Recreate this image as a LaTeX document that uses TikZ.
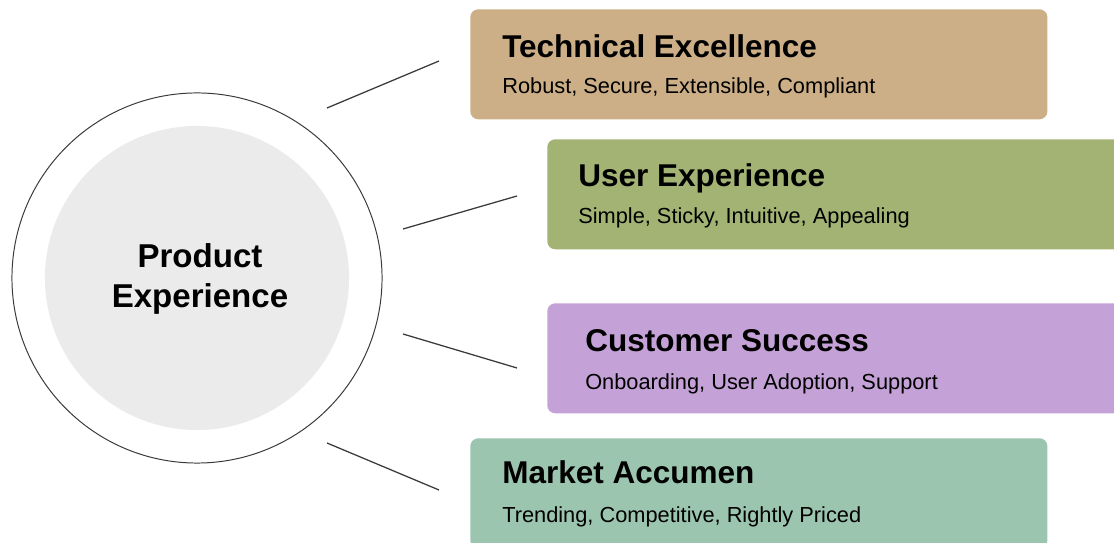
\documentclass[tikz,border=0pt]{standalone}
\usepackage{fontspec}
\setmainfont{Liberation Sans}
\definecolor{techtan}{HTML}{CDAF87}
\definecolor{usergreen}{HTML}{A3B373}
\definecolor{custlilac}{HTML}{C4A1D6}
\definecolor{marketsage}{HTML}{9BC5AF}
\definecolor{hubgray}{HTML}{EBEBEB}
\definecolor{ink}{HTML}{3A3A3A}

\begin{document}
\begin{tikzpicture}[x=0.025cm, y=-0.025cm,
  card/.style={anchor=north west, rounded corners=0.2cm, inner sep=0pt,
    minimum height=2.75cm},
  title/.style={anchor=base west, inner sep=0pt, font=\fontsize{22.4}{26}\selectfont\bfseries},
  sub/.style={anchor=base west, inner sep=0pt, font=\fontsize{15.5}{18}\selectfont},
  spoke/.style={ink, line width=0.9pt}]
  \useasboundingbox (0,0) rectangle (1114,543);

  % hub
  \node[circle, draw=ink, line width=0.7pt, minimum size=9.25cm] (ring) at (197,278) {};
  \node[circle, fill=hubgray, minimum size=7.6cm] (hub) at (197,278) {};
  \node[align=center, inner sep=0pt, font=\fontsize{23.5}{29}\selectfont\bfseries]
    (hub-t) at (200,279) {Product\\Experience};

  % cards
  \node[card, fill=techtan, minimum width=14.425cm] (tech) at (470,9) {};
  \node[card, fill=usergreen, minimum width=14.6cm] (user) at (547,139) {};
  \node[card, fill=custlilac, minimum width=14.6cm] (cust) at (547,303) {};
  \node[card, fill=marketsage, minimum width=14.425cm] (market) at (470,438) {};

  \node[title] (tech-t) at (502,58) {Technical Excellence};
  \node[sub] (tech-s) at (502,94) {Robust, Secure, Extensible, Compliant};
  \node[title] (user-t) at (578,187) {User Experience};
  \node[sub] (user-s) at (578,224) {Simple, Sticky, Intuitive, Appealing};
  \node[title] (cust-t) at (585,352) {Customer Success};
  \node[sub] (cust-s) at (585,390) {Onboarding, User Adoption, Support};
  \node[title] (market-t) at (502,484) {Market Accumen};
  \node[sub] (market-s) at (502,523) {Trending, Competitive, Rightly Priced};

  % spokes between hub and cards
  \coordinate (a1) at (327,108); \coordinate (b1) at (439,61);
  \coordinate (a2) at (403,229); \coordinate (b2) at (517,196);
  \coordinate (a3) at (403,334); \coordinate (b3) at (517,368);
  \coordinate (a4) at (327,443); \coordinate (b4) at (439,490);
  \draw[spoke] (a1) -- (b1);
  \draw[spoke] (a2) -- (b2);
  \draw[spoke] (a3) -- (b3);
  \draw[spoke] (a4) -- (b4);
\end{tikzpicture}
\end{document}
